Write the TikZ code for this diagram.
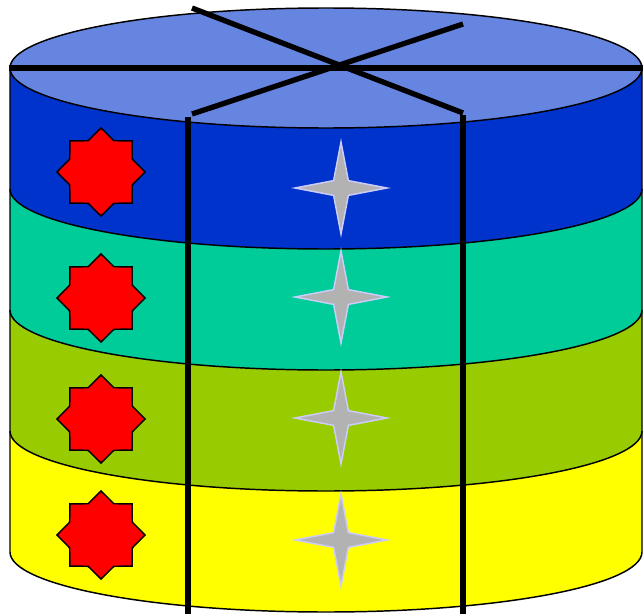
\documentclass[tikz,border=0pt]{standalone}
\usetikzlibrary{shapes.geometric}
\definecolor{topblue}{RGB}{102,133,224}
\definecolor{sideblue}{RGB}{0,51,204}
\definecolor{sideteal}{RGB}{0,204,153}
\definecolor{sidegreen}{RGB}{153,204,0}
\definecolor{sideyellow}{RGB}{255,255,0}
\definecolor{starline}{RGB}{204,204,250}
\definecolor{stargrey}{RGB}{178,178,178}
\tikzset{
  redstar/.style={star, star points=8, star point ratio=1.3, minimum size=66pt,
    inner sep=0pt, fill=red, draw=black, line width=1.1pt},
  greystar/.style={star, star points=4, star point ratio=4.4, minimum size=69pt,
    inner sep=0pt, fill=stargrey, draw=starline, line width=1.1pt},
  rod/.style={line width=4pt}
}
\begin{document}
\begin{tikzpicture}[x=0.75pt,y=0.75pt]
\useasboundingbox (0,-614) rectangle (643,0);
% layers, bottom one first
\foreach \t/\c in {431/sideyellow, 310/sidegreen, 189/sideteal, 68/sideblue}
    {
        \fill[\c] (10,-\t) -- (10,-\t-121) arc (180:360:237pt and 45pt) -- (642,-\t) -- cycle;
        \draw[line width=1.1pt] (10,-\t) -- (10,-\t-121) arc (180:360:237pt and 45pt) -- (642,-\t);
    }
\filldraw[fill=topblue, line width=1.1pt] (326,-68) ellipse (237pt and 45pt);

\foreach \y [count=\i] in {172,298,419,535}
    \node[redstar] (red\i) at (101,-\y) {};
\foreach \y [count=\i] in {188,297,418,540}
    \node[greystar] (grey\i) at (341,-\y) {};

\coordinate (lidL) at (9,-68);
\coordinate (lidR) at (643,-68);
\draw[rod] (lidL) -- (lidR);
\draw[rod] (192,-8) -- (463,-113);
\draw[rod] (192,-114) -- (463,-24);
\draw[rod] (188,-117) -- (188,-614);
\draw[rod] (463,-115) -- (463,-614);
\end{tikzpicture}
\end{document}
